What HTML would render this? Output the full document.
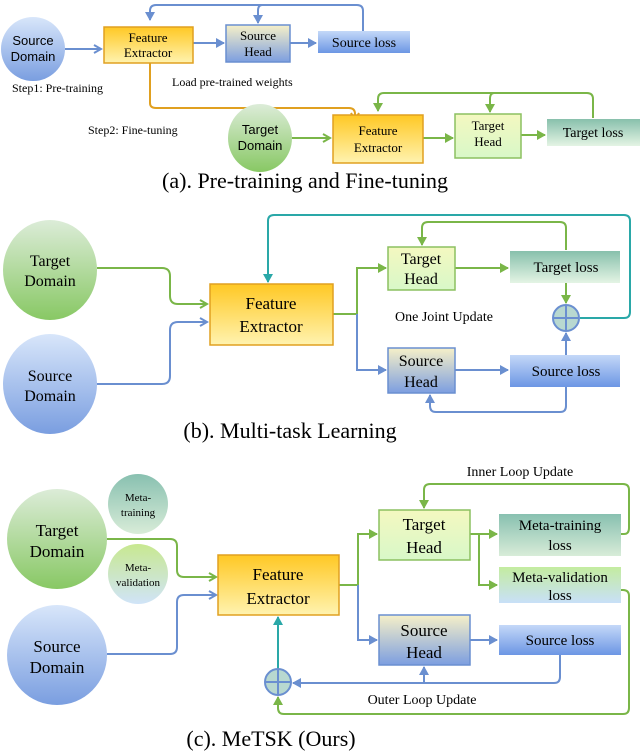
<!DOCTYPE html>
<html><head><meta charset="utf-8"><style>
html,body{margin:0;padding:0;background:#fff;}
svg{display:block;font-family:"Liberation Serif",serif;}
</style></head><body>
<svg width="640" height="752" viewBox="0 0 640 752" xmlns="http://www.w3.org/2000/svg">
<defs>
<linearGradient id="fe" x1="0" y1="0" x2="0" y2="1"><stop offset="0" stop-color="#ffc824"/><stop offset="1" stop-color="#fff3b0"/></linearGradient>
<linearGradient id="th" x1="0" y1="0" x2="0" y2="1"><stop offset="0" stop-color="#f4f8c0"/><stop offset="1" stop-color="#d8f8c8"/></linearGradient>
<linearGradient id="sh" x1="0" y1="0" x2="0" y2="1"><stop offset="0" stop-color="#f6f0c8"/><stop offset="1" stop-color="#7c9ee0"/></linearGradient>
<linearGradient id="sl" x1="0" y1="0" x2="0" y2="1"><stop offset="0" stop-color="#c4d8f8"/><stop offset="1" stop-color="#6c96e4"/></linearGradient>
<linearGradient id="tl" x1="0" y1="0" x2="0" y2="1"><stop offset="0" stop-color="#88c0ac"/><stop offset="1" stop-color="#e4f4e4"/></linearGradient>
<linearGradient id="mv" x1="0" y1="0" x2="0" y2="1"><stop offset="0" stop-color="#c4eca0"/><stop offset="1" stop-color="#c8e0f8"/></linearGradient>
<linearGradient id="te" x1="0" y1="0" x2="0" y2="1"><stop offset="0" stop-color="#dcecd8"/><stop offset="1" stop-color="#88c864"/></linearGradient>
<linearGradient id="se" x1="0" y1="0" x2="0" y2="1"><stop offset="0" stop-color="#d8e6fa"/><stop offset="1" stop-color="#7a9ee0"/></linearGradient>
<linearGradient id="mt" x1="0" y1="0" x2="0" y2="1"><stop offset="0" stop-color="#88c0b0"/><stop offset="1" stop-color="#d8ecd8"/></linearGradient>
<linearGradient id="mvc" x1="0" y1="0" x2="0" y2="1"><stop offset="0" stop-color="#c8e890"/><stop offset="1" stop-color="#d0e4f8"/></linearGradient>
<marker id="ab" markerWidth="10" markerHeight="10" refX="8" refY="5" orient="auto" markerUnits="userSpaceOnUse"><path d="M1,1 L8,5 L1,9" fill="none" stroke="#6a8fd0" stroke-width="2"/></marker>
<marker id="ag" markerWidth="10" markerHeight="10" refX="8" refY="5" orient="auto" markerUnits="userSpaceOnUse"><path d="M1,1 L8,5 L1,9" fill="none" stroke="#7ab648" stroke-width="2"/></marker>
<marker id="ao" markerWidth="10" markerHeight="10" refX="8" refY="5" orient="auto" markerUnits="userSpaceOnUse"><path d="M1,1 L8,5 L1,9" fill="none" stroke="#e0a020" stroke-width="2"/></marker>
<marker id="at" markerWidth="10" markerHeight="10" refX="8" refY="5" orient="auto" markerUnits="userSpaceOnUse"><path d="M0,0 L9,5 L0,10 Z" fill="#2aa8a8"/></marker>
<marker id="abf" markerWidth="10" markerHeight="10" refX="8" refY="5" orient="auto" markerUnits="userSpaceOnUse"><path d="M0,0 L9,5 L0,10 Z" fill="#6a8fd0"/></marker>
<marker id="agf" markerWidth="10" markerHeight="10" refX="8" refY="5" orient="auto" markerUnits="userSpaceOnUse"><path d="M0,0 L9,5 L0,10 Z" fill="#7ab648"/></marker>
</defs>

<!-- Panel A -->
<g fill="none" stroke-width="2">
<path d="M65,49 H101" stroke="#6a8fd0" marker-end="url(#ab)"/>
<path d="M193,43 H224" stroke="#6a8fd0" marker-end="url(#abf)"/>
<path d="M290,43 H316" stroke="#6a8fd0" marker-end="url(#abf)"/>
<path d="M363,32 V11 Q363,5 357,5 H156 Q150,5 150,11 V20" stroke="#6a8fd0" marker-end="url(#abf)"/>
<path d="M262,5 Q258,5 258,11 V23" stroke="#6a8fd0" marker-end="url(#abf)"/>
<path d="M150,63 V103 Q150,108 156,108 H349 Q355,108 355,114 V120" stroke="#e0a020" marker-end="url(#ao)"/>
<path d="M292,138 H330" stroke="#7ab648" marker-end="url(#ag)"/>
<path d="M423,138 H453" stroke="#7ab648" marker-end="url(#agf)"/>
<path d="M521,135 H545" stroke="#7ab648" marker-end="url(#agf)"/>
<path d="M593,118 V99 Q593,93 587,93 H384 Q378,93 378,99 V111" stroke="#7ab648" marker-end="url(#agf)"/>
<path d="M494,93 Q490,93 490,99 V112" stroke="#7ab648" marker-end="url(#agf)"/>
</g>
<ellipse cx="33" cy="49" rx="32" ry="32" fill="url(#se)"/>
<text x="33" y="45" font-size="13" text-anchor="middle" font-family="Liberation Sans,sans-serif">Source</text>
<text x="33" y="61" font-size="13" text-anchor="middle" font-family="Liberation Sans,sans-serif">Domain</text>
<rect x="104" y="27" width="89" height="36" fill="url(#fe)" stroke="#e0a020" stroke-width="1.5"/>
<text x="148" y="42" font-size="13" text-anchor="middle">Feature</text>
<text x="148" y="57" font-size="13" text-anchor="middle">Extractor</text>
<rect x="226" y="25" width="64" height="37" fill="url(#sh)" stroke="#6a8fd0" stroke-width="1.5"/>
<text x="258" y="40" font-size="13" text-anchor="middle">Source</text>
<text x="258" y="56" font-size="13" text-anchor="middle">Head</text>
<rect x="318" y="31" width="92" height="22" fill="url(#sl)"/>
<text x="364" y="47" font-size="14" text-anchor="middle">Source loss</text>
<text x="12" y="92" font-size="12">Step1: Pre-training</text>
<text x="172" y="86" font-size="12">Load pre-trained weights</text>
<text x="88" y="134" font-size="12">Step2: Fine-tuning</text>
<ellipse cx="260" cy="138" rx="32" ry="34" fill="url(#te)"/>
<text x="260" y="134" font-size="13" text-anchor="middle" font-family="Liberation Sans,sans-serif">Target</text>
<text x="260" y="150" font-size="13" text-anchor="middle" font-family="Liberation Sans,sans-serif">Domain</text>
<rect x="333" y="115" width="90" height="48" fill="url(#fe)" stroke="#e0a020" stroke-width="1.5"/>
<text x="378" y="135" font-size="13" text-anchor="middle">Feature</text>
<text x="378" y="152" font-size="13" text-anchor="middle">Extractor</text>
<rect x="455" y="114" width="66" height="44" fill="url(#th)" stroke="#8cc060" stroke-width="1.5"/>
<text x="488" y="130" font-size="13" text-anchor="middle">Target</text>
<text x="488" y="146" font-size="13" text-anchor="middle">Head</text>
<rect x="547" y="119" width="93" height="27" fill="url(#tl)"/>
<text x="593" y="137" font-size="14" text-anchor="middle">Target loss</text>
<text x="305" y="188" font-size="22" text-anchor="middle">(a). Pre-training and Fine-tuning</text>

<!-- Panel B -->
<g fill="none" stroke-width="2">
<path d="M97,268 H162 Q170,268 170,276 V296 Q170,304 178,304 H207" stroke="#7ab648" marker-end="url(#ag)"/>
<path d="M97,384 H162 Q170,384 170,376 V330 Q170,322 178,322 H207" stroke="#6a8fd0" marker-end="url(#ab)"/>
<path d="M333,314 H357 V268 H386" stroke="#7ab648" marker-end="url(#agf)"/>
<path d="M357,314 V370 H386" stroke="#6a8fd0" marker-end="url(#abf)"/>
<path d="M455,268 H508" stroke="#7ab648" marker-end="url(#agf)"/>
<path d="M455,370 H508" stroke="#6a8fd0" marker-end="url(#abf)"/>
<path d="M566,250 V228 Q566,222 560,222 H428 Q422,222 422,228 V245" stroke="#7ab648" marker-end="url(#agf)"/>
<path d="M566,283 V303" stroke="#7ab648" marker-end="url(#agf)"/>
<path d="M566,355 V333" stroke="#6a8fd0" marker-end="url(#abf)"/>
<path d="M580,318 H624 Q630,318 630,312 V221 Q630,215 624,215 H274 Q268,215 268,221 V282" stroke="#2aa8a8" marker-end="url(#at)"/>
<path d="M566,387 V406 Q566,412 560,412 H436 Q430,412 430,406 V395" stroke="#6a8fd0" marker-end="url(#abf)"/>
</g>
<ellipse cx="50" cy="270" rx="47" ry="50" fill="url(#te)"/>
<text x="50" y="266" font-size="16" text-anchor="middle">Target</text>
<text x="50" y="286" font-size="16" text-anchor="middle">Domain</text>
<ellipse cx="50" cy="384" rx="47" ry="50" fill="url(#se)"/>
<text x="50" y="381" font-size="16" text-anchor="middle">Source</text>
<text x="50" y="401" font-size="16" text-anchor="middle">Domain</text>
<rect x="210" y="284" width="123" height="61" fill="url(#fe)" stroke="#e0a020" stroke-width="1.5"/>
<text x="271" y="309" font-size="17" text-anchor="middle">Feature</text>
<text x="271" y="332" font-size="17" text-anchor="middle">Extractor</text>
<rect x="388" y="247" width="67" height="43" fill="url(#th)" stroke="#8cc060" stroke-width="1.5"/>
<text x="421" y="264" font-size="16" text-anchor="middle">Target</text>
<text x="421" y="284" font-size="16" text-anchor="middle">Head</text>
<rect x="510" y="251" width="110" height="32" fill="url(#tl)"/>
<text x="566" y="272" font-size="15" text-anchor="middle">Target loss</text>
<rect x="388" y="348" width="67" height="45" fill="url(#sh)" stroke="#6a8fd0" stroke-width="1.5"/>
<text x="421" y="366" font-size="16" text-anchor="middle">Source</text>
<text x="421" y="387" font-size="16" text-anchor="middle">Head</text>
<rect x="510" y="355" width="110" height="32" fill="url(#sl)"/>
<text x="566" y="376" font-size="15" text-anchor="middle">Source loss</text>
<circle cx="566" cy="318" r="13" fill="#b8d8d0" stroke="#6a8fd0" stroke-width="2"/>
<path d="M553,318 H579 M566,305 V331" stroke="#6a8fd0" stroke-width="2"/>
<text x="395" y="321" font-size="14">One Joint Update</text>
<text x="290" y="438" font-size="22" text-anchor="middle">(b). Multi-task Learning</text>

<!-- Panel C -->
<g fill="none" stroke-width="2">
<path d="M107,539 H170 Q177,539 177,546 V570 Q177,577 184,577 H216" stroke="#7ab648" marker-end="url(#ag)"/>
<path d="M107,654 H170 Q177,654 177,647 V602 Q177,595 184,595 H216" stroke="#6a8fd0" marker-end="url(#ab)"/>
<path d="M339,585 H358 V534 H377" stroke="#7ab648" marker-end="url(#agf)"/>
<path d="M358,585 V640 H377" stroke="#6a8fd0" marker-end="url(#abf)"/>
<path d="M470,534 H497" stroke="#7ab648" marker-end="url(#agf)"/>
<path d="M479,534 V585 H497" stroke="#7ab648" marker-end="url(#agf)"/>
<path d="M470,640 H497" stroke="#6a8fd0" marker-end="url(#abf)"/>
<path d="M621,534 H624 Q629,534 629,528 V490 Q629,484 623,484 H430 Q424,484 424,490 V508" stroke="#7ab648" marker-end="url(#agf)"/>
<path d="M621,590 H623 Q629,590 629,596 V708 Q629,714 623,714 H284 Q278,714 278,708 V697" stroke="#7ab648" marker-end="url(#agf)"/>
<path d="M560,655 V677 Q560,683 554,683 H293" stroke="#6a8fd0" marker-end="url(#abf)"/>
<path d="M424,683 V667" stroke="#6a8fd0" marker-end="url(#abf)"/>
<path d="M278,669 V617" stroke="#2aa8a8" marker-end="url(#at)"/>
</g>
<ellipse cx="57" cy="539" rx="50" ry="50" fill="url(#te)"/>
<text x="57" y="536" font-size="17" text-anchor="middle">Target</text>
<text x="57" y="557" font-size="17" text-anchor="middle">Domain</text>
<ellipse cx="57" cy="655" rx="50" ry="50" fill="url(#se)"/>
<text x="57" y="652" font-size="17" text-anchor="middle">Source</text>
<text x="57" y="673" font-size="17" text-anchor="middle">Domain</text>
<ellipse cx="138" cy="504" rx="30" ry="30" fill="url(#mt)"/>
<text x="138" y="501" font-size="11" text-anchor="middle">Meta-</text>
<text x="138" y="516" font-size="11" text-anchor="middle">training</text>
<ellipse cx="138" cy="574" rx="30" ry="30" fill="url(#mvc)"/>
<text x="138" y="571" font-size="11" text-anchor="middle">Meta-</text>
<text x="138" y="586" font-size="11" text-anchor="middle">validation</text>
<rect x="218" y="555" width="121" height="60" fill="url(#fe)" stroke="#e0a020" stroke-width="1.5"/>
<text x="278" y="580" font-size="17" text-anchor="middle">Feature</text>
<text x="278" y="604" font-size="17" text-anchor="middle">Extractor</text>
<rect x="379" y="510" width="91" height="50" fill="url(#th)" stroke="#8cc060" stroke-width="1.5"/>
<text x="424" y="530" font-size="17" text-anchor="middle">Target</text>
<text x="424" y="553" font-size="17" text-anchor="middle">Head</text>
<rect x="499" y="514" width="122" height="42" fill="url(#mt)"/>
<text x="560" y="530" font-size="15" text-anchor="middle">Meta-training</text>
<text x="560" y="550" font-size="15" text-anchor="middle">loss</text>
<rect x="499" y="567" width="122" height="36" fill="url(#mv)"/>
<text x="560" y="582" font-size="15" text-anchor="middle">Meta-validation</text>
<text x="560" y="600" font-size="15" text-anchor="middle">loss</text>
<rect x="379" y="615" width="91" height="50" fill="url(#sh)" stroke="#6a8fd0" stroke-width="1.5"/>
<text x="424" y="636" font-size="17" text-anchor="middle">Source</text>
<text x="424" y="658" font-size="17" text-anchor="middle">Head</text>
<rect x="499" y="625" width="122" height="30" fill="url(#sl)"/>
<text x="560" y="645" font-size="15" text-anchor="middle">Source loss</text>
<circle cx="278" cy="682" r="13" fill="#b8d8d0" stroke="#6a8fd0" stroke-width="2"/>
<path d="M265,682 H291 M278,669 V695" stroke="#6a8fd0" stroke-width="2"/>
<text x="520" y="476" font-size="14" text-anchor="middle">Inner Loop Update</text>
<text x="422" y="704" font-size="14" text-anchor="middle">Outer Loop Update</text>
<text x="271" y="746" font-size="22" text-anchor="middle">(c). MeTSK (Ours)</text>
</svg>
</body></html>
